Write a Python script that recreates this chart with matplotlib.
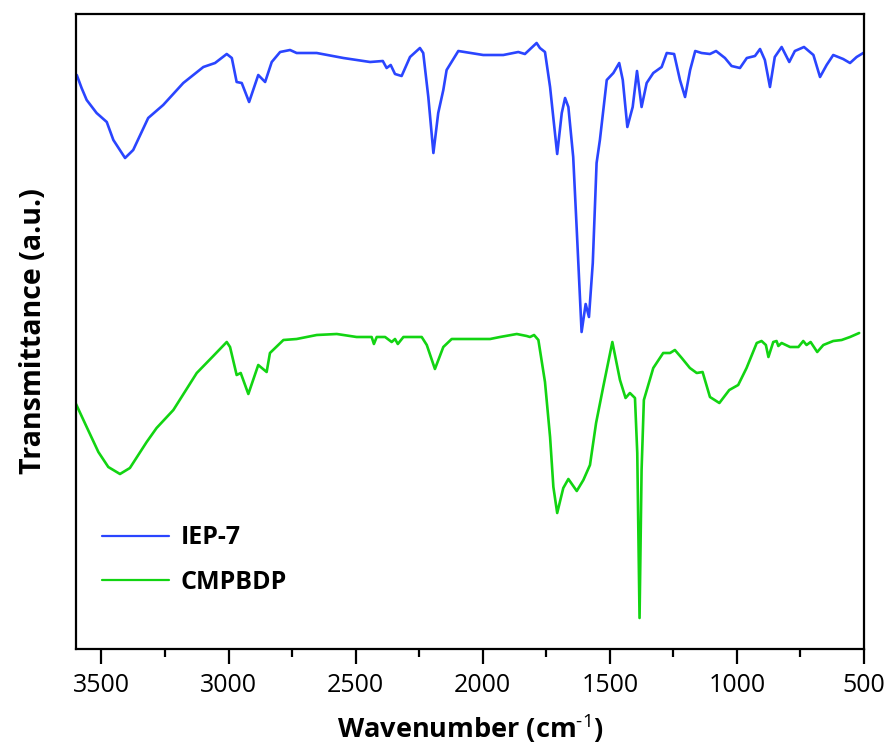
import matplotlib
matplotlib.use("Agg")
import matplotlib.pyplot as plt
import numpy as np
from matplotlib.ticker import MultipleLocator

# wavenumber (cm-1) and transmittance (a.u.)
iep7_wn = [3597, 3578, 3558, 3519, 3479, 3453, 3407, 3375, 3316, 3257, 3178, 3099,
           3053, 3007, 2987, 2968, 2948, 2919, 2883, 2856, 2830, 2797, 2758, 2732,
           2653, 2548, 2443, 2393, 2378, 2362, 2345, 2319, 2286, 2247, 2234, 2214,
           2194, 2175, 2155, 2142, 2096, 1998, 1919, 1860, 1834, 1788, 1775, 1755,
           1735, 1720, 1707, 1689, 1676, 1663, 1644, 1630, 1611, 1595, 1582, 1567,
           1552, 1539, 1512, 1486, 1463, 1449, 1431, 1410, 1393, 1375, 1355, 1329,
           1296, 1276, 1247, 1224, 1204, 1184, 1164, 1139, 1106, 1082, 1047, 1021,
           988, 961, 929, 909, 890, 870, 851, 824, 794, 772, 736, 699, 673, 647,
           621, 582, 555, 529, 503]
iep7_t = [574, 561, 549, 536, 527, 509, 491, 499, 531, 544, 566, 582,
          586, 595, 591, 567, 566, 547, 574, 567, 587, 597, 599, 596,
          596, 591, 587, 588, 581, 584, 575, 573, 592, 601, 596, 552,
          496, 536, 559, 579, 598, 594, 594, 597, 595, 606, 601, 597,
          562, 526, 495, 536, 551, 542, 492, 419, 317, 345, 332, 386,
          486, 509, 569, 576, 586, 569, 522, 542, 578, 542, 566, 576,
          582, 596, 595, 569, 552, 579, 598, 596, 595, 598, 591, 583,
          581, 591, 593, 600, 589, 562, 592, 602, 587, 598, 602, 594, 572, 584,
          594, 590, 586, 592, 596]

cmpbdp_wn = [3600, 3558, 3512, 3473, 3427, 3388, 3322, 3283, 3217, 3125, 3060, 3007,
             2994, 2968, 2952, 2922, 2883, 2850, 2837, 2784, 2732, 2653, 2574, 2496,
             2437, 2428, 2417, 2384, 2358, 2345, 2334, 2312, 2240, 2220, 2188, 2155,
             2122, 1971, 1932, 1866, 1827, 1814, 1798, 1781, 1755, 1735, 1722, 1707,
             1683, 1663, 1630, 1604, 1578, 1554, 1526, 1490, 1460, 1438, 1421, 1401,
             1392, 1383, 1375, 1366, 1329, 1290, 1263, 1244, 1217, 1185, 1158, 1135,
             1106, 1069, 1030, 995, 962, 922, 903, 886, 876, 857, 844, 837, 824, 791,
             758, 739, 726, 710, 684, 660, 621, 588, 555, 519]
cmpbdp_t = [245, 222, 197, 182, 175, 181, 207, 221, 239, 276, 293, 307,
            302, 274, 276, 255, 284, 277, 296, 309, 310, 314, 315, 312,
            312, 305, 312, 312, 307, 310, 305, 312, 312, 304, 280, 302,
            310, 310, 312, 315, 313, 312, 314, 309, 267, 212, 162, 136,
            161, 170, 158, 169, 184, 226, 262, 307, 269, 251, 256, 251,
            196, 31, 179, 249, 281, 296, 296, 299, 291, 281, 276, 277,
            252, 246, 259, 264, 281, 306, 308, 304, 292, 307, 308, 303, 306, 302,
            302, 308, 304, 307, 297, 304, 308, 309, 312, 316]

series = [("IEP-7", iep7_wn, iep7_t, "#2a45ff"),
          ("CMPBDP", cmpbdp_wn, cmpbdp_t, "#12d412")]

plt.rcParams["font.family"] = ["Open Sans", "DejaVu Sans"]
plt.rcParams["mathtext.fontset"] = "custom"
plt.rcParams["mathtext.rm"] = "Open Sans"
plt.rcParams["mathtext.bf"] = "Open Sans:bold"

fig = plt.figure(figsize=(8.9, 7.49), dpi=100)
ax = fig.add_axes([76 / 890, 1 - 649 / 749, 788 / 890, 635 / 749])

for name, wn, t, color in series:
    ax.plot(wn, t, color=color, lw=1.9, label=name,
            solid_joinstyle="round", solid_capstyle="round")

ax.set_xlim(3600, 500)
ax.set_ylim(0, 635)
ax.xaxis.set_major_locator(MultipleLocator(500))
ax.xaxis.set_minor_locator(MultipleLocator(250))
ax.set_yticks([])
ax.tick_params(axis="x", which="major", length=11, width=1.6, labelsize=18, pad=6)
ax.tick_params(axis="x", which="minor", length=5.5, width=1.6)
for sp in ax.spines.values():
    sp.set_linewidth(1.6)

ax.set_xlabel(r"Wavenumber (cm$^{\text{-1}}$)", fontsize=19.5, fontweight="bold", labelpad=10)
ax.set_ylabel("Transmittance (a.u.)", fontsize=20.5, fontweight="bold", labelpad=20)

leg = ax.legend(loc="lower left", bbox_to_anchor=(0.004, 0.05), frameon=False,
                handlelength=2.7, handletextpad=0.45, labelspacing=0.77,
                prop={"family": "Open Sans", "weight": "bold", "size": 18})
for line in leg.get_lines():
    line.set_linewidth(1.6)

fig.savefig("out.png", dpi=100)
